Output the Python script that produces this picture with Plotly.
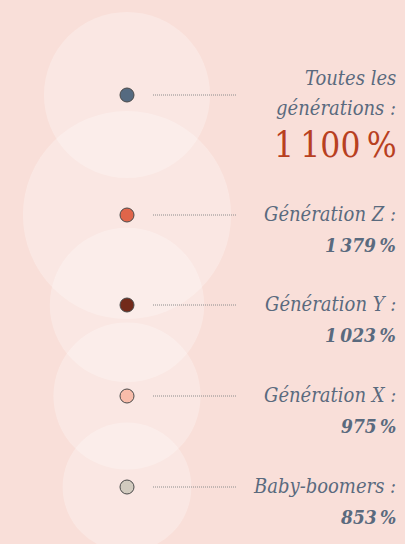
import plotly.graph_objects as go

# Growth by generation (%)
groups = ["Toutes les générations :", "Génération Z :", "Génération Y :", "Génération X :", "Baby-boomers :"]
title_lines = ["Toutes les", "générations :"]
values = [1100, 1379, 1023, 975, 853]
value_labels = ["1\u202f100\u202f%", "1\u202f379\u202f%", "1\u202f023\u202f%", "975\u202f%", "853\u202f%"]
dot_colors = ["#556a80", "#e0654a", "#722a1a", "#f8bcaa", "#d2cbbf"]

# Layout constants (pixel space)
W, H = 405, 544
row_y = [95, 215, 305, 396, 487]
cx = 127
line_x = [153, 237]
text_x = 398
bg = "#f9dfd9"
text_color = "#5a6a7e"
font_family = "DejaVu Serif Condensed, DejaVu Serif"

fig = go.Figure()

# Large translucent circles, diameter proportional to value
fig.add_trace(go.Scatter(
    x=[cx] * len(values), y=row_y, mode="markers",
    marker=dict(size=values, sizemode="diameter", sizeref=1 / 0.151,
                color="rgba(255,255,255,0.38)", line=dict(width=0)),
    hoverinfo="skip", showlegend=False,
))

# Dotted leader lines
for y in row_y:
    fig.add_trace(go.Scatter(
        x=line_x, y=[y, y], mode="lines",
        line=dict(color="#8c8c8c", width=1, dash="1px,1px"),
        hoverinfo="skip", showlegend=False,
    ))

# Small coloured dots
fig.add_trace(go.Scatter(
    x=[cx] * len(values), y=row_y, mode="markers",
    marker=dict(size=14, color=dot_colors, line=dict(color="#4a4a4a", width=1)),
    text=groups, hoverinfo="text", showlegend=False,
))

label_font = dict(family=font_family, size=20, color=text_color)
annotations = []
# First group: two-line label and large red total
for line, dy in zip(title_lines, [-17, 13]):
    annotations.append(dict(x=text_x, y=row_y[0] + dy, text=f"<i>{line}</i>",
                            xanchor="right", yanchor="middle", showarrow=False,
                            font=label_font))
annotations.append(dict(x=text_x + 1, y=145, text=value_labels[0],
                        xanchor="right", yanchor="middle", showarrow=False,
                        font=dict(family=font_family, size=35, color="#b8401f")))
for name, lab, y in zip(groups[1:], value_labels[1:], row_y[1:]):
    annotations.append(dict(x=text_x, y=y - 1, text=f"<i>{name}</i>",
                            xanchor="right", yanchor="middle", showarrow=False,
                            font=label_font))
    annotations.append(dict(x=text_x, y=y + 30, text=f"<b><i>{lab}</i></b>",
                            xanchor="right", yanchor="middle", showarrow=False,
                            font=dict(family=font_family, size=19, color=text_color)))

fig.update_layout(
    width=W, height=H, margin=dict(l=0, r=0, t=0, b=0),
    paper_bgcolor=bg, plot_bgcolor=bg,
    xaxis=dict(range=[0, W], visible=False, fixedrange=True),
    yaxis=dict(range=[H, 0], visible=False, fixedrange=True),
    annotations=annotations,
)

fig.write_html("out.html")
